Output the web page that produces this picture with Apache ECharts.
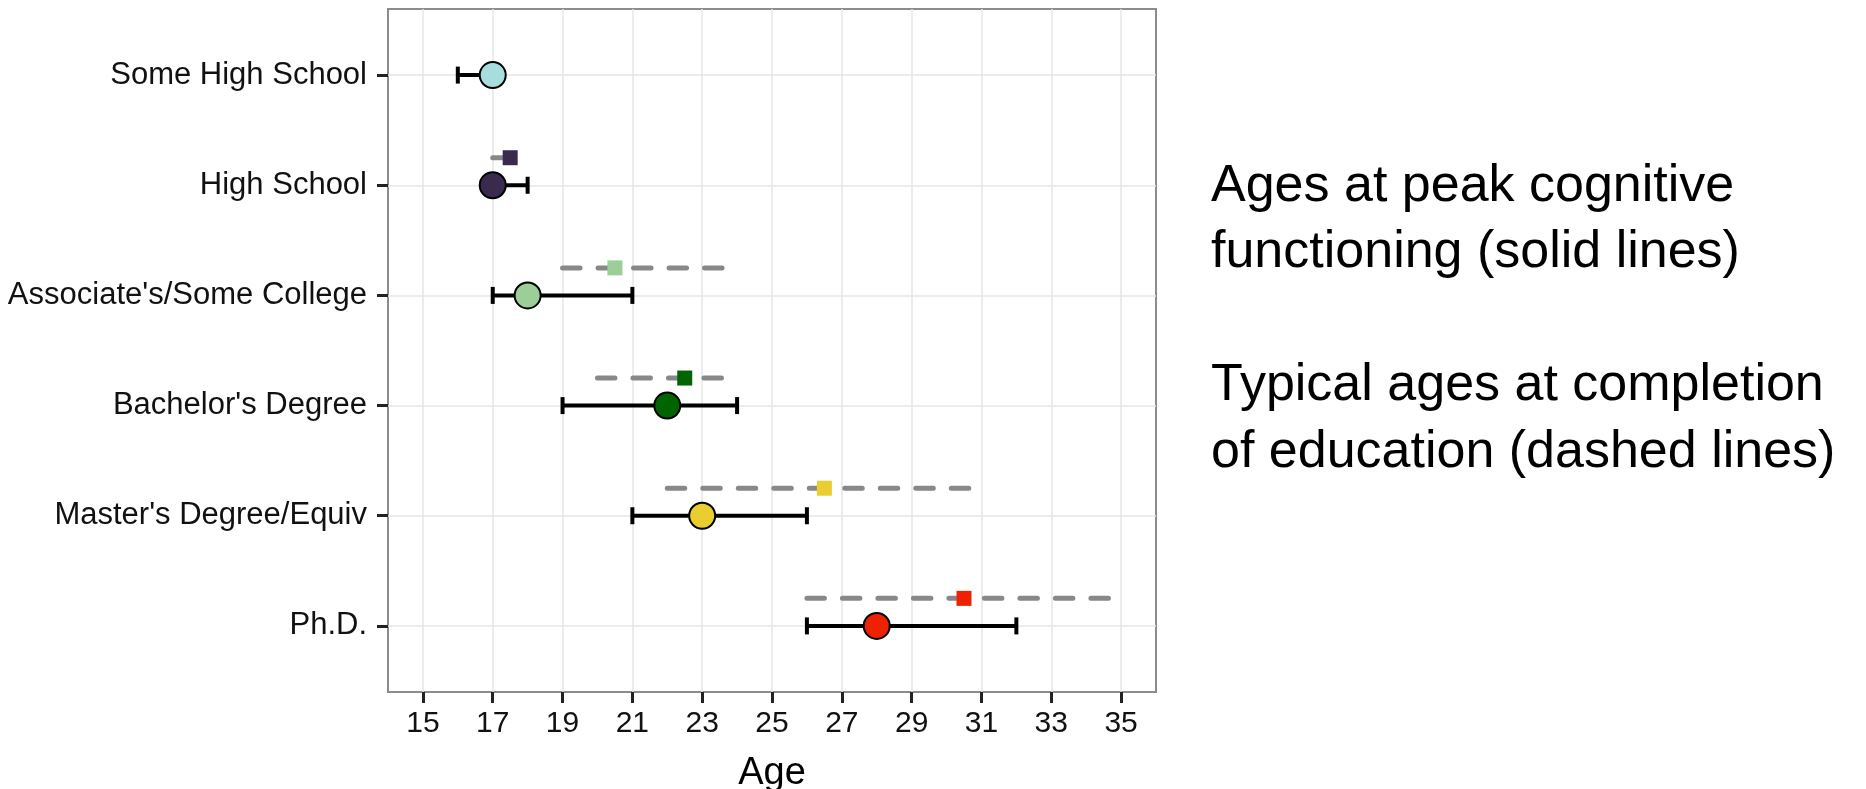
<!DOCTYPE html>
<html>
<head>
<meta charset="utf-8">
<script src="https://cdn.jsdelivr.net/npm/echarts@6/dist/echarts.min.js"></script>
<style>
html,body{margin:0;padding:0;background:#fff;}
#chart{width:1866px;height:789px;}
</style>
</head>
<body>
<div id="chart"></div>
<script>
const categories = ["Some High School", "High School", "Associate's/Some College", "Bachelor's Degree", "Master's Degree/Equiv", "Ph.D."];
const peakAge  = [17, 17, 18, 22, 23, 28];
const peakLow  = [16, 17, 17, 19, 21, 26];
const peakHigh = [17, 18, 21, 24, 26, 32];
const completionAge  = [null, 17.5, 20.5, 22.5, 26.5, 30.5];
const completionLow  = [null, 17, 19, 20, 22, 26];
const completionHigh = [null, 18, 24, 24, 31, 35];
const xTicks = [15, 17, 19, 21, 23, 25, 27, 29, 31, 33, 35];
const xTitle = "Age";
const noteText = "Ages at peak cognitive\nfunctioning (solid lines)\n\nTypical ages at completion\nof education (dashed lines)";

const colors = ['#A8DDDE', '#3A2B4E', '#9CCF97', '#006400', '#EACD30', '#EE2200'];
const DODGE = -0.25;
const FONT = "'Liberation Sans', Arial, sans-serif";

const rowPos = categories.map((c, i) => i + 1);

const errData = categories.map((c, i) => [rowPos[i], peakLow[i], peakHigh[i]]);
const dashData = categories.map((c, i) => completionAge[i] == null ? null : [rowPos[i] + DODGE, completionLow[i], completionHigh[i]]).filter(d => d);
const circleData = categories.map((c, i) => ({ value: [peakAge[i], rowPos[i]], itemStyle: { color: colors[i] } }));
const squareData = categories.map((c, i) => completionAge[i] == null ? null : ({ value: [completionAge[i], rowPos[i] + DODGE], itemStyle: { color: colors[i] } })).filter(d => d);

const chart = echarts.init(document.getElementById('chart'), null, { renderer: 'canvas' });
chart.setOption({
  animation: false,
  backgroundColor: '#fff',
  grid: { left: 388, right: 710, top: 9, bottom: 97, containLabel: false, outerBoundsMode: 'none',
    show: true, borderColor: '#8c8c8c', borderWidth: 2, backgroundColor: 'transparent' },
  xAxis: {
    type: 'value', min: 14, max: 36,
    name: xTitle, nameLocation: 'middle', nameGap: 63,
    nameTextStyle: { fontFamily: FONT, fontSize: 38, color: '#000' },
    axisLine: { show: false },
    axisTick: { show: true, length: 11, customValues: xTicks, lineStyle: { color: '#222', width: 3 } },
    axisLabel: { customValues: xTicks, margin: 17, fontFamily: FONT, fontSize: 30, color: '#111' },
    splitLine: { show: true, lineStyle: { color: '#e6e6e6', width: 1.5 } }
  },
  yAxis: {
    type: 'value', min: 0.4, max: 6.6, inverse: true,
    axisLine: { show: false },
    axisTick: { show: true, length: 11, customValues: rowPos, lineStyle: { color: '#222', width: 3 } },
    axisLabel: { customValues: rowPos, margin: 21, fontFamily: FONT, fontSize: 31, color: '#111',
      formatter: v => categories[Math.round(v) - 1] || '' },
    splitLine: { show: true, lineStyle: { color: '#e6e6e6', width: 1.5 } }
  },
  graphic: [{
    type: 'text', left: 1211, top: 153,
    style: { text: noteText, font: "52px 'Liberation Sans', Arial, sans-serif", fill: '#000', lineHeight: 66.5 }
  }],
  series: [
    {
      type: 'custom', name: 'completion range', z: 2,
      encode: { x: [1, 2], y: 0 },
      data: dashData,
      renderItem: (params, api) => {
        const y = api.value(0);
        const p1 = api.coord([api.value(1), y]);
        const p2 = api.coord([api.value(2), y]);
        return { type: 'line', shape: { x1: p1[0], y1: p1[1], x2: p2[0], y2: p2[1] },
          style: { stroke: '#888888', lineWidth: 5, lineDash: [17.5, 18], lineCap: 'round' } };
      }
    },
    {
      type: 'custom', name: 'peak range', z: 3,
      encode: { x: [1, 2], y: 0 },
      data: errData,
      renderItem: (params, api) => {
        const y = api.value(0);
        const p1 = api.coord([api.value(1), y]);
        const p2 = api.coord([api.value(2), y]);
        const h = 8.5;
        const st = { stroke: '#000', lineWidth: 4 };
        return { type: 'group', children: [
          { type: 'line', shape: { x1: p1[0], y1: p1[1], x2: p2[0], y2: p2[1] }, style: st },
          { type: 'line', shape: { x1: p1[0], y1: p1[1] - h, x2: p1[0], y2: p1[1] + h }, style: st },
          { type: 'line', shape: { x1: p2[0], y1: p2[1] - h, x2: p2[0], y2: p2[1] + h }, style: st }
        ]};
      }
    },
    {
      type: 'scatter', name: 'completion', z: 4,
      symbol: 'rect', symbolSize: 15,
      itemStyle: { opacity: 1 },
      data: squareData
    },
    {
      type: 'scatter', name: 'peak', z: 5,
      symbol: 'circle', symbolSize: 26,
      itemStyle: { borderColor: '#000', borderWidth: 2, opacity: 1 },
      data: circleData
    }
  ]
});
</script>
</body>
</html>
